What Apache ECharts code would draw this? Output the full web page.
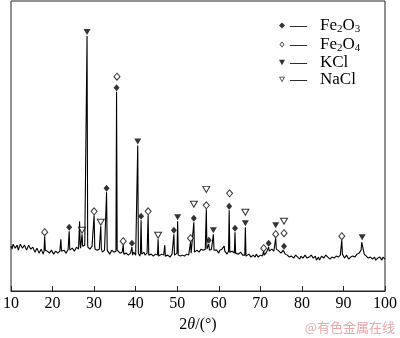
<!DOCTYPE html>
<html><head><meta charset="utf-8">
<script src="https://cdn.jsdelivr.net/npm/echarts@6/dist/echarts.min.js"></script>
<style>html,body{margin:0;padding:0;background:#fff}#c{width:400px;height:338px}</style>
</head><body><div id="c"></div>
<script>
// x-axis ticks
const xTicks = [10, 20, 30, 40, 50, 60, 70, 80, 90, 100];
// background (noisy baseline) of the XRD pattern: [2theta, intensity]
const baseline = [
[10,45],[10.25,42],[10.5,47],[10.75,48],[11,43],[11.25,45],[11.5,46],[11.75,41],
[12,44],[12.25,47],[12.5,46],[12.75,43],[13,42],[13.25,46],[13.5,45],[13.75,41],
[14,43],[14.25,46],[14.5,44],[14.75,42],[15,41],[15.25,44],[15.5,43],[15.75,39],
[16,40],[16.25,43],[16.5,42],[16.75,38],[17,39],[17.25,42],[17.5,41],[17.75,37],
[18.5,42],[18.75,40],[19,40],[19.25,38],[19.5,39],[19.75,41],
[20,41],[20.25,37],[20.5,38],[20.75,40],[21,41],[21.25,38],[21.5,37],[21.75,40],
[22.25,39],[22.5,38],[22.75,41],[23,42],[23.25,38],[23.5,39],[23.75,42],
[24.25,40],[24.5,40],[24.75,43],[25,43],[25.25,40],[25.5,41],[25.75,44],
[26,44],[26.25,42],[26.75,43],[27.5,43],[27.75,46],
[28,46],[28.5,44],[28.75,45],[29,42],[29.25,44],[29.5,45],[29.75,43],
[30.25,42],[30.5,43],[30.75,41],[31,40],[31.25,42],[31.5,42],
[32,39],[32.25,41],[32.5,41],[32.75,40],[33.25,40],[33.5,40],[33.75,37],
[34,39],[34.25,41],[34.5,42],[34.75,39],[35,40],[35.75,39],
[36,40],[36.25,38],[36.5,37],[36.75,39],[37.25,38],[37.5,36],[37.75,38],
[38,38],[38.25,36],[38.5,35],[38.75,38],[39.5,39],[39.75,37],
[40,36],[40.25,38],[40.75,36],[41,35],[41.5,37],[41.75,38],
[42,39],[42.25,36],[42.5,36],[42.75,38],[43.25,35],[43.5,35],[43.75,37],
[44,37],[44.25,35],[44.5,34],[44.75,37],[45,36],[45.75,37],
[46,35],[46.25,37],[46.5,39],[46.75,36],[47.25,37],[47.5,34],[47.75,36],
[48,37],[48.25,34],[48.5,35],[48.75,37],[49,38],[49.5,36],[49.75,37],
[50.5,36],[50.75,35],[51,34],[51.25,36],[51.5,37],[51.75,35],
[52,35],[52.25,37],[52.5,38],[52.75,36],[53,36],[53.5,40],[53.75,38],
[54.25,38],[54.5,39],[54.75,41],[55,42],[55.25,39],[55.5,40],[55.75,42],
[56,43],[56.25,41],[56.5,41],[56.75,42],[57.25,43],
[58,40],[58.25,42],[58.5,43],[59,39],[59.25,42],[59.5,41],[59.75,40],
[60,38],[60.25,41],[60.5,40],[60.75,42],[61,42],[61.5,39],[61.75,40],
[62,37],[62.25,39],[62.75,41],[63,38],[63.25,40],[63.5,41],
[64.25,38],[64.5,39],[64.75,37],[65,36],[65.25,39],[65.5,38],[65.75,36],
[66,35],[66.75,36],[67,34],[67.25,37],[67.5,36],[67.75,34],
[68,33],[68.25,36],[68.5,35],[68.75,34],[69,37],[69.25,35],[69.5,34],[69.75,36],
[70,36],[70.25,34],[70.5,35],[71,37],[71.25,38],[71.5,39],[71.75,37],
[72.25,39],[72.5,40],[72.75,42],[73,42],[73.25,40],[73.5,41],
[74,43],[74.25,41],[74.5,40],[74.75,42],[75,38],[75.25,40],[75.5,41],
[76,37],[76.25,39],[76.5,36],[76.75,35],[77,34],[77.25,36],[77.5,35],[77.75,33],
[78,33],[78.25,35],[78.5,36],[78.75,34],[79,34],[79.25,33],[79.5,32],[79.75,35],
[80,35],[80.25,33],[80.5,33],[80.75,36],[81,35],[81.25,33],[81.5,32],[81.75,34],
[82,34],[82.25,36],[82.5,36],[82.75,33],[83,33],[83.25,35],[83.5,31],[83.75,33],
[84,34],[84.25,31],[84.5,32],[84.75,35],[85,35],[85.25,33],[85.5,33],[85.75,36],
[86,36],[86.25,34],[86.5,34],[86.75,32],[87,32],[87.25,34],[87.5,35],[87.75,33],
[88,33],[88.25,35],[88.5,36],[88.75,34],[89,34],[89.25,36],
[90,35],[90.25,33],[90.5,33],[90.75,36],[91,35],[91.25,32],[91.5,32],[91.75,34],
[92,34],[92.25,35],[92.5,33],[92.75,34],[93,35],[93.25,37],[93.5,36],[93.75,38],
[94,38],[95,37],[95.25,39],[95.5,35],[95.75,36],
[96,33],[96.25,35],[96.5,34],[96.75,32],[97,32],[97.25,34],[97.5,34],[97.75,31],
[98,31],[98.25,33],[98.5,33],[98.75,34],[99,32],[99.25,31],[99.5,34],[99.75,33],[100,32]
];
// diffraction peaks: [2theta, intensity]
const peaks = [
[17.95,40],[18.1,55],[18.25,41],
[21.85,41],[22.0,52],[22.15,40],
[23.85,42],[24.0,60],[24.15,41],
[26.35,44],[26.5,70],[26.65,46],[26.95,45],[27.1,57],[27.25,45],
[28.15,46],[28.3,256],[28.45,47],
[29.85,44],[30.0,76],[30.15,45],
[31.45,43],[31.6,65],[31.75,42],
[32.85,42],[33.0,99],[33.15,41],
[35.25,40],[35.4,200],[35.55,41],
[36.85,38],[37.0,46],[37.15,37],
[38.95,37],[39.1,44],[39.25,36],
[40.35,37],[40.5,146],[40.65,38],
[41.15,38],[41.3,71],[41.45,37],
[42.85,37],[43.0,76],[43.15,36],
[45.25,36],[45.4,52],[45.55,35],
[46.85,36],[47.0,46],[47.15,35],
[49.05,37],[49.2,57],[49.35,36],
[49.95,38],[50.1,70],[50.25,36],
[53.05,36],[53.2,49],[53.35,38],
[53.85,38],[54.0,69],[54.15,39],
[56.85,41],[57.0,82],[57.15,42],
[57.45,43],[57.6,47],[57.75,41],
[58.55,42],[58.7,57],[58.85,41],
[61.15,40],[61.3,45],[61.45,40],
[62.35,40],[62.5,81],[62.65,39],
[63.75,38],[63.9,59],[64.05,38],
[66.25,36],[66.4,64],[66.55,35],
[70.65,35],[70.8,40],[70.95,36],
[71.85,39],[72.0,44],[72.15,40],
[73.55,41],[73.7,53],[73.85,42],
[75.6,40],[75.7,42],[75.85,39],
[89.45,36],[89.6,51],[89.75,37],
[94.25,41],[94.4,49],[94.6,50],[94.8,41]
];
// phase markers: [2theta, marker height]
const fe2o3 = [[24.0,64],[33.0,103],[35.4,204],[39.1,48],[41.3,75],[49.2,61],[54.0,73],[57.6,51],[62.5,85],[63.9,63],[72.0,48],[75.7,45]];
const fe2o4 = [[18.1,59],[30.0,80],[35.5,215],[37.0,50],[43.0,80],[53.2,53],[57.0,86],[62.6,98],[70.8,43],[73.7,57],[75.7,58],[89.6,55]];
const kcl   = [[28.3,260],[40.5,150],[50.1,74],[58.7,61],[66.4,68],[73.7,66],[94.5,54]];
const nacl  = [[27.1,61],[31.6,69],[45.4,56],[54.0,87],[57.0,102],[66.4,79],[75.7,70]];
const names = ['Fe2O3', 'Fe2O4', 'KCl', 'NaCl'];

const pattern = baseline.concat(peaks).sort((a, b) => a[0] - b[0]);
const serif = "'Liberation Serif', 'Times New Roman', serif";
const down = 'path://M0,0L10,0L5,9Z';
const downRing = 'path://M0,0L10,0L5,9Z M2,1.2L5,6.6L8,1.2Z';
const diamondRing = 'path://M5,0L10,6L5,12L0,6Z M5,2.4L1.8,6L5,9.6L8.2,6Z';
const filled = { color: '#000', borderWidth: 0 };
const hollow = { color: '#fff', borderColor: '#000', borderWidth: 1 };

const chart = echarts.init(document.getElementById('c'));
chart.setOption({
  animation: false,
  backgroundColor: '#fff',
  grid: { left: 4, right: 14, top: 1, bottom: 46, show: true, borderColor: '#222', borderWidth: 1 },
  xAxis: {
    type: 'value', min: xTicks[0], max: xTicks[xTicks.length - 1], interval: 10,
    axisLine: { lineStyle: { color: '#222', width: 1 } },
    axisTick: { inside: true, length: 5, lineStyle: { color: '#222' } },
    splitLine: { show: false },
    axisLabel: { color: '#000', fontFamily: serif, fontSize: 16, margin: 5 },
    name: '{a|2}{i|θ}{a|/(°)}', nameLocation: 'middle', nameGap: 26,
    nameTextStyle: { rich: {
      a: { fontFamily: serif, fontSize: 16, color: '#000' },
      i: { fontFamily: serif, fontSize: 16, fontStyle: 'italic', color: '#000' }
    } }
  },
  yAxis: { type: 'value', min: 0, max: 291, show: false },
  legend: {
    orient: 'vertical', left: 274, top: 11, itemWidth: 6, itemHeight: 6, itemGap: 0,
    data: [
      { name: names[0], icon: 'diamond', itemStyle: filled },
      { name: names[1], icon: diamondRing, itemStyle: filled },
      { name: names[2], icon: down, itemStyle: filled },
      { name: names[3], icon: downRing, itemStyle: filled }
    ],
    formatter: function (n) {
      if (n === 'Fe2O3') return '{d|—}{n|Fe}{s|2}{n|O}{s|3}';
      if (n === 'Fe2O4') return '{d|—}{n|Fe}{s|2}{n|O}{s|4}';
      return '{d|—}{n|' + n + '}';
    },
    textStyle: { rich: {
      d: { fontFamily: serif, fontSize: 17, color: '#000', lineHeight: 19, padding: [0, 13, 0, 0] },
      n: { fontFamily: serif, fontSize: 17, color: '#000', lineHeight: 19 },
      s: { fontFamily: serif, fontSize: 11, color: '#000', lineHeight: 19, padding: [8, 0, 0, 0] }
    } }
  },
  graphic: [{
    type: 'text', right: 5, top: 321,
    style: { text: '@有色金属在线', fill: '#eaa8a8', font: "13px 'Noto Sans CJK SC'" }
  }],
  series: [
    { type: 'line', data: pattern, showSymbol: false, symbol: 'none', lineStyle: { color: '#000', width: 1.1 }, z: 2 },
    { name: names[0], type: 'scatter', data: fe2o3, symbol: 'diamond', symbolSize: [6, 7], itemStyle: filled, z: 3 },
    { name: names[1], type: 'scatter', data: fe2o4, symbol: 'diamond', symbolSize: [6, 7], itemStyle: hollow, z: 3 },
    { name: names[2], type: 'scatter', data: kcl, symbol: down, symbolSize: [7, 6], itemStyle: filled, z: 3 },
    { name: names[3], type: 'scatter', data: nacl, symbol: down, symbolSize: [7, 6], itemStyle: hollow, z: 3 }
  ]
});
</script></body></html>
